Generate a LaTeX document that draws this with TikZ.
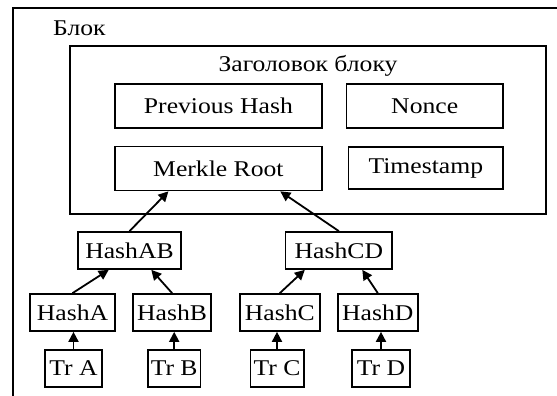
\documentclass[tikz,border=0pt]{standalone}
\usepackage{fontspec}
\setmainfont{Liberation Serif}[FakeStretch=1.14]
\usetikzlibrary{arrows.meta}
\tikzstyle{BaseNode}=[rectangle, draw=black, line width=1.7pt, inner sep=0pt, font=\fontsize{22.5}{26}\selectfont]
\tikzstyle{FieldNode}=[BaseNode, minimum height=44pt]
\tikzstyle{HashNode}=[BaseNode, minimum height=37pt]
\tikzstyle{TrNode}=[BaseNode, minimum height=37pt]
\tikzstyle{LabelNode}=[inner sep=0pt, font=\fontsize{22.5}{26}\selectfont]
\tikzstyle{HashEdge}=[-{Triangle[length=10pt, width=10pt]}, line width=1.8pt]

\begin{document}
\begin{tikzpicture}[x=1pt, y=-1pt]
\useasboundingbox (0,0) rectangle (557,396);
\draw[line width=1.4pt] (562,8) -- (13,8) -- (13,400);
\node[LabelNode, anchor=west](Block) at (53,28) {Блок};
\node[BaseNode, minimum width=476pt, minimum height=168pt](Header) at (308,130) {};
\node[LabelNode](HeaderTitle) at (308,66) {Заголовок блоку};

\node[FieldNode, minimum width=207pt](PrevHash) at (218.4,106) {Previous Hash};
\node[FieldNode, minimum width=156.5pt](Nonce) at (424.7,106) {Nonce};
\node[FieldNode, minimum width=207pt](Merkle) at (218.4,168.5) {Merkle Root};
\node[FieldNode, minimum width=154.5pt, minimum height=42pt](Time) at (425.8,168) {Timestamp};

\node[HashNode, minimum width=103.4pt](HashAB) at (129.5,250.5) {HashAB};
\node[HashNode, minimum width=106.6pt](HashCD) at (338.9,250.5) {HashCD};

\node[HashNode, minimum width=85pt](HashA) at (72.5,312.5) {HashA};
\node[HashNode, minimum width=77.8pt](HashB) at (172.1,312.5) {HashB};
\node[HashNode, minimum width=80pt](HashC) at (279.8,312.5) {HashC};
\node[HashNode, minimum width=80pt](HashD) at (377.8,312.5) {HashD};

\node[TrNode, minimum width=57pt](TrA) at (73.5,368.5) {Tr A};
\node[TrNode, minimum width=52.3pt](TrB) at (174.2,368.5) {Tr B};
\node[TrNode, minimum width=53.3pt](TrC) at (277,368.5) {Tr C};
\node[TrNode, minimum width=58.6pt](TrD) at (381,368.5) {Tr D};

\draw[HashEdge](TrA) -- (TrA |- HashA.south);
\draw[HashEdge](TrB) -- (TrB |- HashB.south);
\draw[HashEdge](TrC) -- (TrC |- HashC.south);
\draw[HashEdge](TrD) -- (TrD |- HashD.south);

\draw[HashEdge](HashA.north) -- ([xshift=-20.8pt]HashAB.south);
\draw[HashEdge](HashB.north) -- ([xshift=21.8pt]HashAB.south);
\draw[HashEdge](HashC.north) -- ([xshift=-34.1pt]HashCD.south);
\draw[HashEdge](HashD.north) -- ([xshift=23.4pt]HashCD.south);

\draw[HashEdge](HashAB.north) -- ([xshift=-50pt]Merkle.south);
\draw[HashEdge](HashCD.north) -- ([xshift=61.9pt]Merkle.south);
\end{tikzpicture}
\end{document}
